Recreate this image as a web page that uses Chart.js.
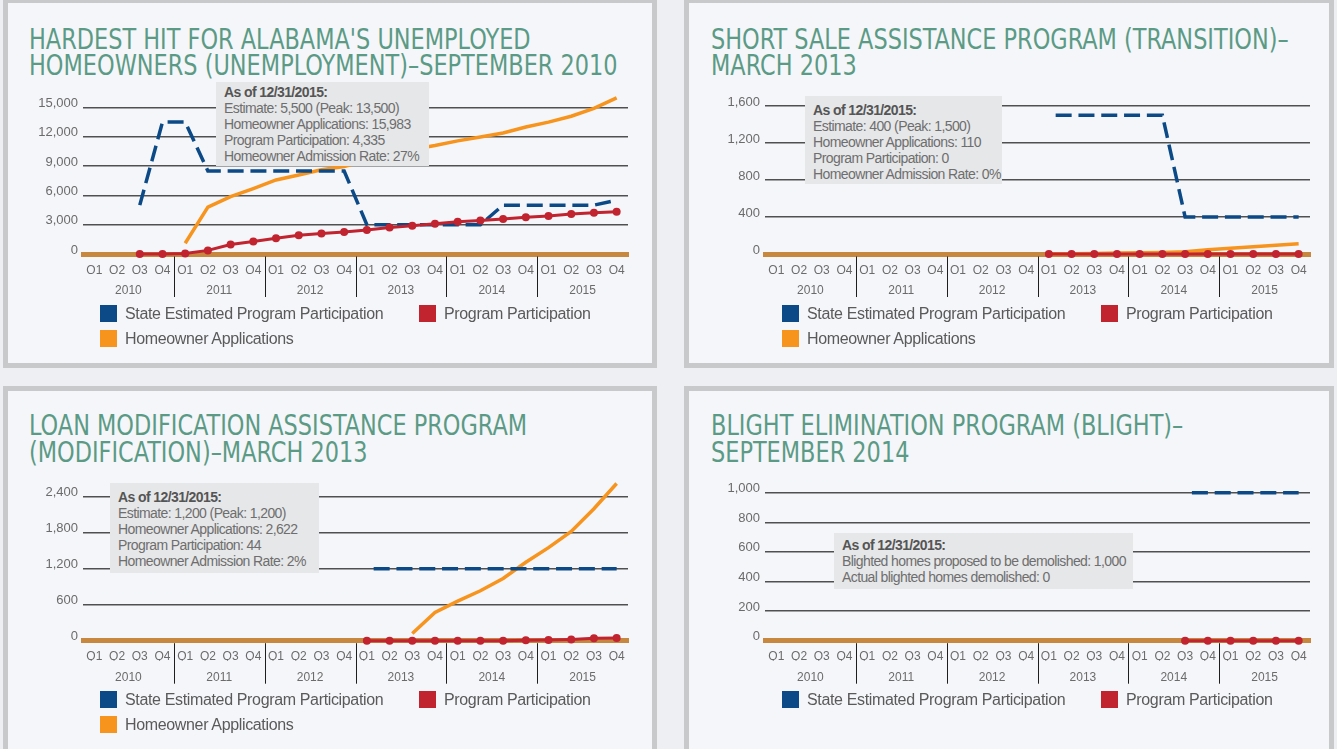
<!DOCTYPE html>
<html>
<head>
<meta charset="utf-8">
<title>Alabama Hardest Hit Fund programs</title>
<script src="https://cdn.jsdelivr.net/npm/chart.js"></script>
<style>
  body { margin: 0; width: 1337px; height: 749px; overflow: hidden; position: relative; background: #eeeff3;
         font-family: "Liberation Sans", Arial, sans-serif; }
  .panel { position: absolute; box-sizing: border-box; width: 654px; height: 370px; border: 5px solid #c8c9cb; background: #f5f6fa; }
  .title { position: absolute; white-space: nowrap; color: #5b9b85; font-size: 28px; line-height: 26.7px;
           font-family: "Liberation Sans Narrow", "DejaVu Sans Condensed", sans-serif;
           transform: scaleX(0.89); transform-origin: 0 0; }
  .chart { position: absolute; }
  .note { position: absolute; box-sizing: border-box; background: #e6e7e9; color: #6e6e6e; white-space: nowrap;
          font-size: 14px; line-height: 16px; letter-spacing: -0.6px; padding: 6px 8px 0 8px; }
  .note b { color: #555; }
  .legend { position: absolute; display: grid; grid-template-columns: 319px auto; grid-auto-rows: 25px;
            font-size: 16px; letter-spacing: -0.35px; color: #5a5a5a; }
  .legend div { display: flex; align-items: center; white-space: nowrap; }
  .legend span { width: 17px; height: 17px; margin-right: 8px; flex: none; }
</style>
</head>
<body>
<div class="panel" style="left:3px; top:-2px;"></div>
<div class="panel" style="left:684px; top:-2px; width:650px;"></div>
<div class="panel" style="left:3px; top:386px;"></div>
<div class="panel" style="left:684px; top:386px; width:650px;"></div>

<div class="title" style="left:29px; top:26.7px;">HARDEST HIT FOR ALABAMA'S UNEMPLOYED<br>HOMEOWNERS (UNEMPLOYMENT)–SEPTEMBER 2010</div>
<div class="title" style="left:711px; top:26.7px;">SHORT SALE ASSISTANCE PROGRAM (TRANSITION)–<br>MARCH 2013</div>
<div class="title" style="left:29px; top:413.4px;">LOAN MODIFICATION ASSISTANCE PROGRAM<br>(MODIFICATION)–MARCH 2013</div>
<div class="title" style="left:711px; top:413.4px;">BLIGHT ELIMINATION PROGRAM (BLIGHT)–<br>SEPTEMBER 2014</div>

<canvas id="unemployment" class="chart" width="620" height="225" style="left:20px; top:80px;"></canvas>
<canvas id="transition" class="chart" width="620" height="225" style="left:702px; top:80px;"></canvas>
<canvas id="modification" class="chart" width="620" height="225" style="left:20px; top:466px;"></canvas>
<canvas id="blight" class="chart" width="620" height="225" style="left:702px; top:466px;"></canvas>

<div class="note" style="left:216px; top:82px; width:213px; height:84px; padding-top:2px;">
  <b>As of 12/31/2015:</b><br>Estimate: 5,500 (Peak: 13,500)<br>Homeowner Applications: 15,983<br>Program Participation: 4,335<br>Homeowner Admission Rate: 27%</div>
<div class="note" style="left:805px; top:96px; width:197px; height:88px;">
  <b>As of 12/31/2015:</b><br>Estimate: 400 (Peak: 1,500)<br>Homeowner Applications: 110<br>Program Participation: 0<br>Homeowner Admission Rate: 0%</div>
<div class="note" style="left:110px; top:483px; width:209px; height:90px;">
  <b>As of 12/31/2015:</b><br>Estimate: 1,200 (Peak: 1,200)<br>Homeowner Applications: 2,622<br>Program Participation: 44<br>Homeowner Admission Rate: 2%</div>
<div class="note" style="left:834px; top:533px; width:299px; height:56px; padding-top:4px;">
  <b>As of 12/31/2015:</b><br>Blighted homes proposed to be demolished: 1,000<br>Actual blighted homes demolished: 0</div>

<div id="legend-unemployment" class="legend" style="left:100px; top:301px;"></div>
<div id="legend-transition" class="legend" style="left:782px; top:301px;"></div>
<div id="legend-modification" class="legend" style="left:100px; top:687px;"></div>
<div id="legend-blight" class="legend" style="left:782px; top:687px;"></div>

<script>
  var quarters = ['Q1', 'Q2', 'Q3', 'Q4', 'Q1', 'Q2', 'Q3', 'Q4', 'Q1', 'Q2', 'Q3', 'Q4',
                  'Q1', 'Q2', 'Q3', 'Q4', 'Q1', 'Q2', 'Q3', 'Q4', 'Q1', 'Q2', 'Q3', 'Q4'];
  var years = ['2010', '2011', '2012', '2013', '2014', '2015'];

  // Unemployment program, Q1 2010 .. Q4 2015
  var unempEstimate = [null, null, 5000, 13500, 13500, 8500, 8500, 8500, 8500, 8500, 8500, 8500,
                       3000, 3000, 3000, 3000, 3000, 3000, 5000, 5000, 5000, 5000, 5000, 5500];
  var unempApplications = [null, null, null, null, 1100, 4800, 5870, 6700, 7580, 8080, 8620, 8960,
                           9600, 10200, 10700, 11100, 11580, 11980, 12380, 13000, 13500, 14100, 14900, 15983];
  var unempParticipation = [null, null, 0, 0, 50, 370, 980, 1280, 1610, 1910, 2110, 2250,
                            2450, 2720, 2890, 3090, 3290, 3420, 3590, 3760, 3890, 4090, 4230, 4335];
  var unempTicks = [0, 3000, 6000, 9000, 12000, 15000];

  // Transition (short sale) program
  var transEstimate = [null, null, null, null, null, null, null, null, null, null, null, null,
                       1500, 1500, 1500, 1500, 1500, 1500, 400, 400, 400, 400, 400, 400];
  var transApplications = [null, null, null, null, null, null, null, null, null, null, null, null,
                           0, 3, 6, 10, 13, 17, 24, 45, 63, 78, 94, 110];
  var transParticipation = [null, null, null, null, null, null, null, null, null, null, null, null,
                            0, 0, 0, 0, 0, 0, 0, 0, 0, 0, 0, 0];
  var transTicks = [0, 400, 800, 1200, 1600];

  // Modification program
  var modEstimate = [null, null, null, null, null, null, null, null, null, null, null, null,
                     1200, 1200, 1200, 1200, 1200, 1200, 1200, 1200, 1200, 1200, 1200, 1200];
  var modApplications = [null, null, null, null, null, null, null, null, null, null, null, null,
                         null, null, 120, 470, 660, 833, 1038, 1309, 1552, 1823, 2200, 2622];
  var modParticipation = [null, null, null, null, null, null, null, null, null, null, null, null,
                          0, 0, 0, 0, 0, 0, 0, 8, 12, 22, 40, 44];
  var modTicks = [0, 600, 1200, 1800, 2400];

  // Blight elimination program
  var blightEstimate = [null, null, null, null, null, null, null, null, null, null, null, null,
                        null, null, null, null, null, null, 1000, 1000, 1000, 1000, 1000, 1000];
  var blightParticipation = [null, null, null, null, null, null, null, null, null, null, null, null,
                             null, null, null, null, null, null, 0, 0, 0, 0, 0, 0];
  var blightTicks = [0, 200, 400, 600, 800, 1000];

  var BLUE = '#0b4a86', RED = '#c1232f', ORANGE = '#f7941d', AXIS = '#c8873e', TEXT = '#6b6b6b';

  Chart.defaults.font.family = '"Liberation Sans", Arial, sans-serif';

  function estimateSet(data, dashStart) {
    return { label: 'State Estimated Program Participation', data: data, borderColor: BLUE, backgroundColor: BLUE,
             borderWidth: 3.5, borderDash: [16, 6.8], borderDashOffset: dashStart, pointRadius: 0, order: 2, clip: false };
  }
  function participationSet(data) {
    return { label: 'Program Participation', data: data, borderColor: RED, backgroundColor: RED,
             borderWidth: 3, pointRadius: 4, pointBorderWidth: 0, pointBackgroundColor: RED, order: 1, clip: false };
  }
  function applicationSet(data) {
    return { label: 'Homeowner Applications', data: data, borderColor: ORANGE, backgroundColor: ORANGE,
             borderWidth: 3.5, pointRadius: 0, order: 3, clip: false };
  }

  // black separators between years, through the quarter and year rows
  var yearDividers = {
    id: 'yearDividers',
    afterDraw: function (chart) {
      var xs = chart.scales.x, ctx = chart.ctx, area = chart.chartArea;
      ctx.save();
      ctx.strokeStyle = '#1e1e1e';
      ctx.lineWidth = 1;
      for (var i = 4; i < quarters.length; i += 4) {
        var px = Math.round((xs.getPixelForValue(i - 1) + xs.getPixelForValue(i)) / 2) + 0.5;
        ctx.beginPath();
        ctx.moveTo(px, area.bottom + 2.5);
        ctx.lineTo(px, area.bottom + 43);
        ctx.stroke();
      }
      ctx.restore();
    }
  };

  function drawChart(id, datasets, ticks, yMax, padTop, padBottom) {
    var chart = new Chart(document.getElementById(id), {
      type: 'line',
      data: { labels: quarters, datasets: datasets },
      options: {
        responsive: false,
        animation: false,
        layout: { padding: { left: 0, right: 12, top: padTop, bottom: padBottom } },
        plugins: { legend: { display: false }, tooltip: { enabled: false } },
        scales: {
          x: {
            offset: true, weight: 0,
            grid: { display: false, drawTicks: false },
            border: { color: AXIS, width: 5 },
            ticks: { color: TEXT, font: { size: 12 }, padding: 9.2, autoSkip: false, maxRotation: 0 },
            afterFit: function (s) { s.height = 20; }
          },
          years: {
            type: 'category', axis: 'x', position: 'bottom', labels: years, offset: true, weight: 1,
            grid: { display: false, drawTicks: false },
            border: { display: false },
            ticks: { color: TEXT, font: { size: 12 }, padding: 9.5, autoSkip: false, maxRotation: 0 },
            afterFit: function (s) { s.height = 24; }
          },
          y: {
            min: 0, max: yMax,
            grid: { color: '#505050', lineWidth: 1.5, drawTicks: false },
            border: { display: false },
            ticks: { color: TEXT, font: { size: 13 }, padding: 5, labelOffset: -4,
                     callback: function (v) { return v.toLocaleString('en-US'); } },
            afterBuildTicks: function (s) { s.ticks = ticks.map(function (v) { return { value: v }; }); },
            afterFit: function (s) { s.width = 63; }
          }
        }
      },
      plugins: [yearDividers]
    });

    // html legend from the datasets
    var box = document.getElementById('legend-' + id);
    chart.data.datasets.forEach(function (ds) {
      var item = document.createElement('div');
      item.innerHTML = '<span style="background:' + ds.borderColor + '"></span>' + ds.label;
      box.appendChild(item);
    });
    return chart;
  }

  drawChart('unemployment',
    [estimateSet(unempEstimate, 0), participationSet(unempParticipation), applicationSet(unempApplications)],
    unempTicks, 16500, 10.4, 7);
  drawChart('transition',
    [estimateSet(transEstimate, 16), participationSet(transParticipation), applicationSet(transApplications)],
    transTicks, 1650, 21.4, 7);
  drawChart('modification',
    [estimateSet(modEstimate, 16), participationSet(modParticipation), applicationSet(modApplications)],
    modTicks, 2700, 8.2, 6.3);
  drawChart('blight',
    [estimateSet(blightEstimate, 16), participationSet(blightParticipation)],
    blightTicks, 1050, 19.3, 6.3);
</script>
</body>
</html>
